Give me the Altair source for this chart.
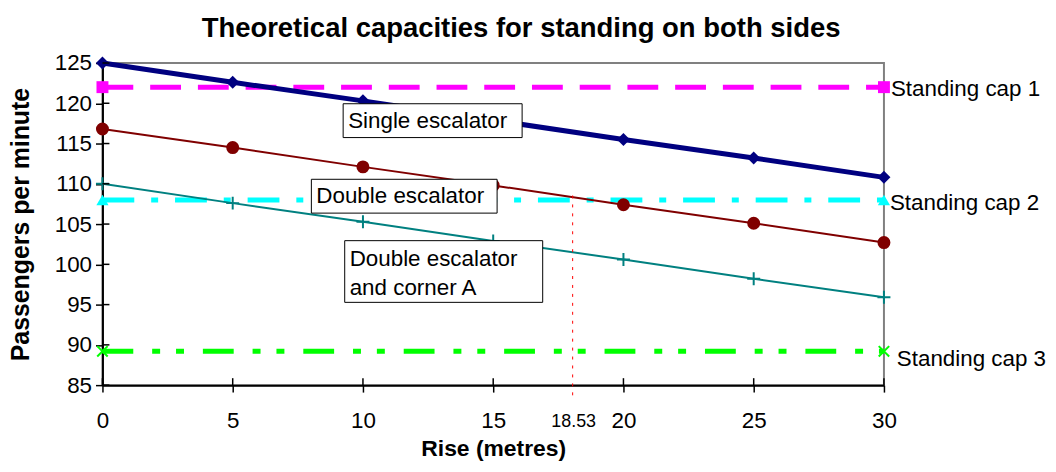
import altair as alt
import pandas as pd

# ---------------- data ----------------
rise = [0, 5, 10, 15, 20, 25, 30]
single_escalator = [125.0, 122.6, 120.3, 117.9, 115.5, 113.2, 110.8]
double_escalator = [116.8, 114.5, 112.1, 109.8, 107.4, 105.1, 102.7]
double_corner_a = [110.0, 107.6, 105.3, 102.9, 100.6, 98.2, 95.9]

cap_names = ["Standing cap 1", "Standing cap 2", "Standing cap 3"]
cap_values = [122.0, 108.0, 89.2]
cap_span = [0, 30]

y_ticks = [85, 90, 95, 100, 105, 110, 115, 120, 125]

marker_rise = 18.05          # where the dotted guide is drawn
marker_label = "18.53"       # its printed label
marker_top = 108.55

box_labels = ["Single escalator", "Double escalator", "Double escalator\nand corner A"]
box_x = [9.24, 8.02, 9.3]
box_x2 = [16.11, 15.15, 16.9]
box_y = [119.94, 110.56, 102.94]
box_y2 = [115.74, 106.36, 95.28]

# ---------------- layout ----------------
W, H = 786, 324
FONT = "Liberation Sans"
FS = 22.5
LH = 29

xscale = alt.Scale(domain=[0, 30], nice=False, zero=False)
yscale = alt.Scale(domain=[85, 125], nice=False, zero=False)

xaxis = alt.Axis(values=rise, title="Rise (metres)", tickSize=7, labelPadding=18,
                 labelFontSize=FS, titleFontSize=23, titleFontWeight="bold",
                 grid=False, domainColor="black", domainWidth=2, tickColor="black",
                 tickWidth=1.5, labelColor="black", titleColor="black",
                 titleY=64, titleBaseline="middle", labelFlush=False)
yaxis = alt.Axis(values=y_ticks, title="Passengers per minute", tickSize=7, labelPadding=4,
                 labelFontSize=FS, titleFontSize=25, titleFontWeight="bold",
                 grid=False, domainColor="black", domainWidth=2, tickColor="black",
                 tickWidth=1.5, labelColor="black", titleColor="black",
                 titleX=-82, titleY=H / 2, titleBaseline="middle", titleAlign="center",
                 labelFlush=False)


def X(f="x"):
    return alt.X(f, type="quantitative", scale=xscale, axis=xaxis)


def Y(f="y"):
    return alt.Y(f, type="quantitative", scale=yscale, axis=yaxis)


def series_df(vals):
    return pd.DataFrame({"x": rise, "y": vals})


layers = []

# standing caps
cap_styles = [
    dict(color="#FF00FF", dash=[31, 17], shape="square", filled=True, size=144, dx=7, dy=2),
    dict(color="#00FFFF", dash=[32, 17, 7, 17], shape="triangle-up", filled=True, size=150, dx=6, dy=3),
    dict(color="#00FF00", dash=[31, 19, 8, 16, 8, 19], shape="M-1,-1L1,1M-1,1L1,-1", filled=False, size=110, dx=13, dy=8),
]
for name, val, st in zip(cap_names, cap_values, cap_styles):
    cdf = pd.DataFrame({"x": cap_span, "y": [val, val], "label": ["", name]})
    layers.append(alt.Chart(cdf).mark_line(color=st["color"], strokeWidth=5,
                                           strokeDash=st["dash"]).encode(x=X(), y=Y()))
    if st["filled"]:
        pm = alt.Chart(cdf).mark_point(shape=st["shape"], filled=True, size=st["size"],
                                       color=st["color"], opacity=1)
    else:
        pm = alt.Chart(cdf).mark_point(shape=st["shape"], filled=False, size=st["size"],
                                       color=st["color"], strokeWidth=2, opacity=1)
    layers.append(pm.encode(x=X(), y=Y()))
    layers.append(alt.Chart(cdf).transform_filter(alt.datum.label != "").mark_text(
        align="left", baseline="middle", font=FONT, fontSize=FS, color="black",
        dx=st["dx"], dy=st["dy"]).encode(x=X(), y=Y(), text="label:N"))

# series
sdf = series_df(single_escalator)
ddf = series_df(double_escalator)
cdf2 = series_df(double_corner_a)

layers.append(alt.Chart(cdf2).mark_line(color="#008080", strokeWidth=2).encode(x=X(), y=Y()))
layers.append(alt.Chart(cdf2).mark_point(shape="M-1,0L1,0M0,-1L0,1", filled=False, size=170,
                                         color="#008080", strokeWidth=2, opacity=1).encode(x=X(), y=Y()))
layers.append(alt.Chart(ddf).mark_line(color="#800000", strokeWidth=2).encode(x=X(), y=Y()))
layers.append(alt.Chart(ddf).mark_point(shape="circle", filled=True, size=170,
                                        color="#800000", opacity=1).encode(x=X(), y=Y()))
layers.append(alt.Chart(sdf).mark_line(color="#000080", strokeWidth=5).encode(x=X(), y=Y()))
layers.append(alt.Chart(sdf).mark_point(shape="diamond", filled=True, size=170,
                                        color="#000080", opacity=1).encode(x=X(), y=Y()))

# dotted guide
vdf = pd.DataFrame({"x": [marker_rise], "y": [marker_top], "label": [marker_label]})
layers.append(alt.Chart(vdf).mark_rule(color="#FF0000", strokeWidth=1, strokeDash=[3, 6]).encode(
    x=X(), y=Y(), y2=alt.value(H + 11)))
layers.append(alt.Chart(vdf).mark_text(font=FONT, fontSize=18, color="black", baseline="middle",
                                       align="center", dx=1).encode(
    x=X(), y=alt.value(H + 37), text="label:N"))

# annotation boxes
bdf = pd.DataFrame({"x": box_x, "x2": box_x2, "y": box_y, "y2": box_y2, "label": box_labels})
bdf["ym"] = (bdf["y"] + bdf["y2"]) / 2
bdf["text"] = bdf["label"].str.split("\n")
bdf["lines"] = bdf["text"].str.len()
layers.append(alt.Chart(bdf).mark_rect(fill="white", stroke="black", strokeWidth=1).encode(
    x=X(), x2="x2", y=Y(), y2="y2"))
layers.append(alt.Chart(bdf).transform_filter(alt.datum.lines == 1).mark_text(
    align="left", baseline="middle", font=FONT, fontSize=FS, color="black", dx=5).encode(
    x=X(), y=Y("ym"), text="label:N"))
layers.append(alt.Chart(bdf).transform_filter(alt.datum.lines == 2).mark_text(
    align="left", baseline="middle", font=FONT, fontSize=FS, color="black", dx=5,
    dy=-LH / 2 + 2, lineHeight=LH).encode(x=X(), y=Y("ym"), text="text"))

# inner halves of the axis ticks
ytk = pd.DataFrame({"y": y_ticks})
xtk = pd.DataFrame({"x": rise})
layers.append(alt.Chart(ytk).mark_rule(color="black", strokeWidth=1.5).encode(
    y=Y(), x=alt.value(0), x2=alt.value(7)))
layers.append(alt.Chart(xtk).mark_rule(color="black", strokeWidth=1.5).encode(
    x=X(), y=alt.value(H), y2=alt.value(H - 7)))

chart = alt.layer(*layers).properties(
    width=W, height=H,
    title=alt.TitleParams("Theoretical capacities for standing on both sides", font=FONT,
                          fontSize=27.6, fontWeight="bold", color="black", anchor="middle",
                          dx=28, offset=10),
    autosize=alt.AutoSizeParams(type="none"),
    padding={"left": 95, "top": 54, "right": 165, "bottom": 77},
).configure_view(stroke="#808080", strokeWidth=2).configure_axis(
    labelFont=FONT, titleFont=FONT)

chart.save("out.html", embed_options={"renderer": "svg", "actions": False})
